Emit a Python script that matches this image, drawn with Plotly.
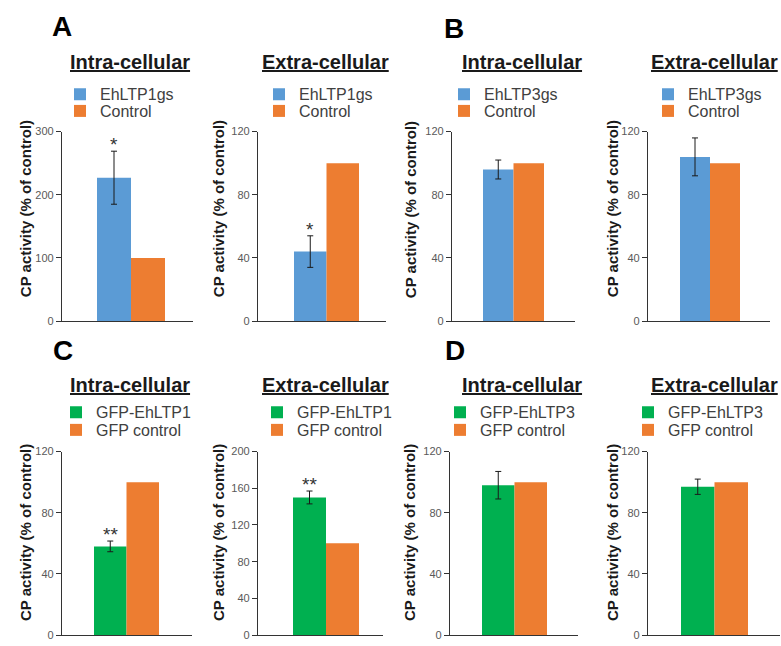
import plotly.graph_objects as go

W, H = 781, 646
FONT = "Liberation Sans, Arial, sans-serif"

# ---------------- data ----------------
panel_letters = ["A", "B", "C", "D"]
panel_titles = ["Intra-cellular", "Extra-cellular", "Intra-cellular", "Extra-cellular",
                "Intra-cellular", "Extra-cellular", "Intra-cellular", "Extra-cellular"]
treatment_names = ["EhLTP1gs", "EhLTP1gs", "EhLTP3gs", "EhLTP3gs",
                   "GFP-EhLTP1", "GFP-EhLTP1", "GFP-EhLTP3", "GFP-EhLTP3"]
control_names = ["Control", "Control", "Control", "Control",
                 "GFP control", "GFP control", "GFP control", "GFP control"]
treatment_values = [227, 44, 96, 104, 58, 150, 98, 97]
treatment_errors = [42, 10, 6, 12, 3.5, 7, 9, 5]
control_values = [100, 100, 100, 100, 100, 100, 100, 100]
significance = ["*", "*", "", "", "**", "**", "", ""]
y_max = [300, 120, 120, 120, 120, 200, 120, 120]
y_step = [100, 40, 40, 40, 40, 40, 40, 40]
y_title = "CP activity (% of control)"
category = ["group"]

# ---------------- styles / geometry ----------------
treat_colors = ["#5B9BD5"] * 4 + ["#00B050"] * 4
ctrl_color = "#ED7D31"
BARGAP = 0.5

x_dom_px = [(62, 193), (258, 386), (452, 575), (648, 770),
            (62, 192), (258, 383), (450, 578), (648, 780)]
bar_center_px = [131, 326.5, 513.5, 710, 126.5, 326, 514.5, 714.5]
group_w_px = [68, 65, 61, 60, 65, 66, 65, 67]
y_dom_px = [(128, 321)] * 4 + [(454, 641)] * 4
ytitle_x_px = [25, 218, 410, 612, 25, 218, 409, 612]
ytitle_y_px = [207] * 4 + [537] * 4
title_x_px = [130, 325, 522, 714, 130, 325, 522, 714]
title_y_px = [57] * 4 + [386] * 4
legend_text_x_px = [100, 299, 484, 688, 96, 297, 480, 668]
legend_row1_px = [90] * 4 + [414] * 4
legend_row2_px = [107] * 4 + [432] * 4
letter_pos_px = [(62, 21), (454, 23), (63, 351), (455, 351)]

fig = go.Figure()
layout = dict(
    width=W, height=H,
    margin=dict(l=0, r=0, t=0, b=0),
    paper_bgcolor="white", plot_bgcolor="white",
    barmode="group", bargap=BARGAP, bargroupgap=0,
    font=dict(family=FONT, color="#333333"),
    showlegend=True,
)
annotations = []


def legend_key(n):
    return "legend" if n == 1 else "legend%d" % n


for i in range(8):
    sfx = "" if i == 0 else str(i + 1)
    xa, ya = "x" + sfx, "y" + sfx
    leg_t = legend_key(2 * i + 1)
    leg_c = legend_key(2 * i + 2)
    fig.add_trace(go.Bar(
        x=category, y=[treatment_values[i]], name=treatment_names[i],
        marker=dict(color=treat_colors[i], line=dict(width=0)),
        error_y=dict(type="data", array=[treatment_errors[i]], color="#1a1a1a",
                     thickness=1, width=3),
        xaxis=xa, yaxis=ya, legend=leg_t, hoverinfo="y",
    ))
    fig.add_trace(go.Bar(
        x=category, y=[control_values[i]], name=control_names[i],
        marker=dict(color=ctrl_color, line=dict(width=0)),
        xaxis=xa, yaxis=ya, legend=leg_c, hoverinfo="y",
    ))

    d0, d1 = x_dom_px[i]
    dw = d1 - d0
    R = (1 - BARGAP) * dw / group_w_px[i]
    frac = (bar_center_px[i] - d0) / dw
    y0, y1 = y_dom_px[i]

    layout["xaxis" + sfx] = dict(
        domain=[d0 / W, d1 / W], anchor=ya, type="category",
        range=[-frac * R, (1 - frac) * R],
        showticklabels=False, ticks="", showgrid=False, zeroline=False,
        showline=True, linecolor="#333333", linewidth=1.3, fixedrange=True,
    )
    layout["yaxis" + sfx] = dict(
        domain=[1 - y1 / H, 1 - y0 / H], anchor=xa,
        range=[0, y_max[i]], dtick=y_step[i], tick0=0,
        ticks="outside", ticklen=5, tickcolor="#333333", tickwidth=1.3,
        tickfont=dict(size=11, color="#595959", family=FONT),
        showgrid=False, zeroline=False,
        showline=True, linecolor="#333333", linewidth=1.3, fixedrange=True,
    )
    for key, row in ((leg_t, legend_row1_px[i]), (leg_c, legend_row2_px[i])):
        layout[key] = dict(
            x=(legend_text_x_px[i] - 40) / W, y=1 - row / H,
            xanchor="left", yanchor="middle", bgcolor="rgba(0,0,0,0)",
            font=dict(size=16, color="#404040", family=FONT),
            tracegroupgap=0, itemclick=False, itemdoubleclick=False,
        )

    # subplot title (underlined, bold)
    annotations.append(dict(
        x=title_x_px[i] / W, y=1 - title_y_px[i] / H, xref="paper", yref="paper",
        text=panel_titles[i], showarrow=False, xanchor="center", yanchor="middle",
        font=dict(size=20, color="#1a1a1a", family=FONT, weight="bold", lineposition="under"),
    ))
    # y axis title
    annotations.append(dict(
        x=ytitle_x_px[i] / W, y=1 - ytitle_y_px[i] / H, xref="paper", yref="paper",
        text=y_title, showarrow=False, textangle=-90, xanchor="center", yanchor="middle",
        font=dict(size=15, color="#1a1a1a", family=FONT, weight="bold"),
    ))
    # significance marks above treatment bar
    if significance[i]:
        annotations.append(dict(
            x=-(1 - BARGAP) / 4, y=treatment_values[i] + treatment_errors[i],
            xref=xa, yref=ya, text=significance[i], showarrow=False,
            xanchor="center", yanchor="bottom", yshift=-6,
            font=dict(size=19, color="#333333", family=FONT),
        ))

for letter, (lx, ly) in zip(panel_letters, letter_pos_px):
    annotations.append(dict(
        x=lx / W, y=1 - ly / H, xref="paper", yref="paper", text=letter,
        showarrow=False, xanchor="center", yanchor="middle",
        font=dict(size=28, color="#000000", family=FONT, weight="bold"),
    ))

layout["annotations"] = annotations
fig.update_layout(**layout)
fig.write_html("out.html", config={"displayModeBar": False, "staticPlot": False})

# remove the browser's default page margin so the figure sits at (0, 0)
with open("out.html", "r", encoding="utf-8") as f:
    html = f.read()
html = html.replace("<head>", "<head><style>html,body{margin:0;padding:0;overflow:hidden;}</style>", 1)
with open("out.html", "w", encoding="utf-8") as f:
    f.write(html)
